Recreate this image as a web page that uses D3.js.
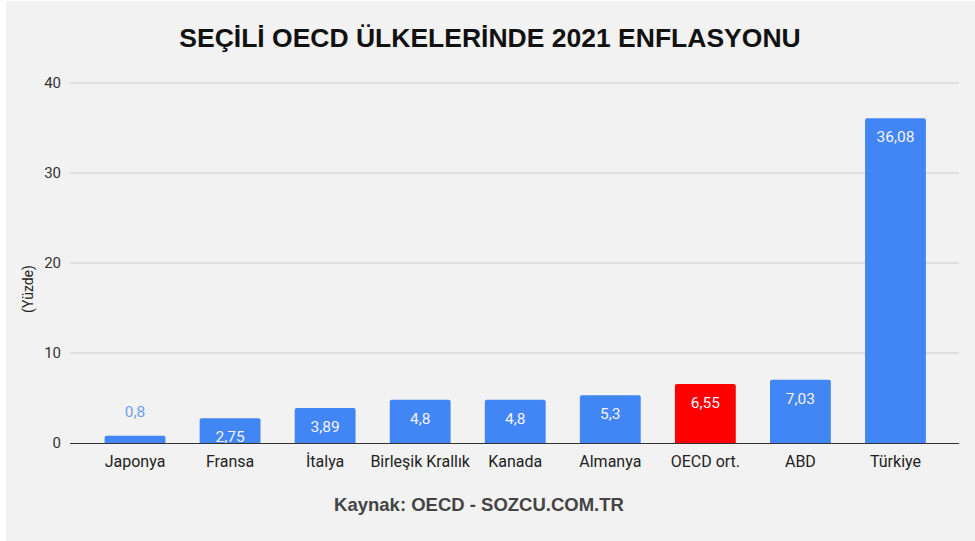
<!DOCTYPE html>
<html>
<head>
<meta charset="utf-8">
<script src="https://cdn.jsdelivr.net/npm/d3@7"></script>
<style>
  body { margin: 0; background: #ffffff; }
  svg { display: block; }
</style>
</head>
<body>
<script>
// Chart data
const countries = ["Japonya", "Fransa", "İtalya", "Birleşik Krallık", "Kanada", "Almanya", "OECD ort.", "ABD", "Türkiye"];
const inflation = [0.8, 2.75, 3.89, 4.8, 4.8, 5.3, 6.55, 7.03, 36.08];
const labels = ["0,8", "2,75", "3,89", "4,8", "4,8", "5,3", "6,55", "7,03", "36,08"];
const yTicks = [0, 10, 20, 30, 40];

const w = 975;
const h = 541;

const svg = d3.select("body")
  .append("svg")
  .attr("width", w)
  .attr("height", h);

// background panel
svg.append("rect")
  .attr("x", 6)
  .attr("y", 1)
  .attr("width", w - 6)
  .attr("height", h - 1)
  .attr("fill", "#f2f2f2");

// Title
svg.append("text")
  .attr("x", 490)
  .attr("y", 47)
  .attr("text-anchor", "middle")
  .attr("font-family", "Liberation Sans, Arial, sans-serif")
  .attr("font-weight", "bold")
  .attr("font-size", "26.5px")
  .attr("fill", "#111")
  .text("SEÇİLİ OECD ÜLKELERİNDE 2021 ENFLASYONU");

// Scales
const xScale = d3.scaleBand()
  .domain(countries)
  .range([87.5, 943])
  .paddingInner(0.36)
  .paddingOuter(0.18);

const yScale = d3.scaleLinear()
  .domain([0, 40])
  .range([443, 83]);

// Gridlines
svg.append("g")
  .selectAll("line")
  .data(yTicks.filter(d => d > 0))
  .enter()
  .append("line")
  .attr("x1", 70)
  .attr("x2", 959)
  .attr("y1", d => yScale(d))
  .attr("y2", d => yScale(d))
  .attr("stroke", "#cccccc")
  .attr("stroke-width", 1);

// Y axis labels
const yAxis = svg.append("g")
  .attr("transform", "translate(70, 0)")
  .call(d3.axisLeft(yScale).tickValues(yTicks).tickSize(0).tickPadding(9).tickFormat(d3.format("d")));
yAxis.select(".domain").remove();
yAxis.selectAll("text")
  .attr("font-family", "Roboto, Arial, sans-serif")
  .attr("font-size", "15px")
  .attr("fill", "#333");

// Y title
svg.append("text")
  .attr("transform", "translate(33, 289) rotate(-90)")
  .attr("text-anchor", "middle")
  .attr("font-family", "Roboto, Arial, sans-serif")
  .attr("font-size", "14px")
  .attr("fill", "#222")
  .text("(Yüzde)");

// Bars with rounded top corners
const r = 2;
const barPath = (x, y, bw, bh) => {
  return `M${x},${y + bh} L${x},${y + r} Q${x},${y} ${x + r},${y} L${x + bw - r},${y} Q${x + bw},${y} ${x + bw},${y + r} L${x + bw},${y + bh} Z`;
};

svg.append("g")
  .selectAll("path")
  .data(countries)
  .enter()
  .append("path")
  .attr("d", (d, i) => barPath(xScale(d), yScale(inflation[i]), xScale.bandwidth(), yScale(0) - yScale(inflation[i])))
  .attr("fill", d => d === "OECD ort." ? "#ff0000" : "#4285f4");

// Value labels
svg.append("g")
  .selectAll("text")
  .data(countries)
  .enter()
  .append("text")
  .attr("x", d => xScale(d) + xScale.bandwidth() / 2)
  .attr("y", (d, i) => {
    const top = yScale(inflation[i]);
    return (yScale(0) - top) < 20 ? top - 19 : top + 24;
  })
  .attr("text-anchor", "middle")
  .attr("font-family", "Roboto, Arial, sans-serif")
  .attr("font-size", "15.5px")
  .attr("fill", (d, i) => (yScale(0) - yScale(inflation[i])) < 20 ? "#6f9ff0" : "#f2f4ff")
  .text((d, i) => labels[i]);

// Baseline
svg.append("line")
  .attr("x1", 70)
  .attr("x2", 959)
  .attr("y1", yScale(0) + 0.5)
  .attr("y2", yScale(0) + 0.5)
  .attr("stroke", "#333")
  .attr("stroke-width", 1);

// X axis labels
const xAxis = svg.append("g")
  .attr("transform", `translate(0, ${yScale(0)})`)
  .call(d3.axisBottom(xScale).tickSize(0).tickPadding(13));
xAxis.select(".domain").remove();
xAxis.selectAll("text")
  .attr("font-family", "Roboto, Arial, sans-serif")
  .attr("font-size", "16px")
  .attr("fill", "#222");

// Source
svg.append("text")
  .attr("x", 479)
  .attr("y", 511)
  .attr("text-anchor", "middle")
  .attr("font-family", "Liberation Sans, Arial, sans-serif")
  .attr("font-weight", "bold")
  .attr("font-size", "18.5px")
  .attr("fill", "#444")
  .text("Kaynak: OECD - SOZCU.COM.TR");
</script>
</body>
</html>
